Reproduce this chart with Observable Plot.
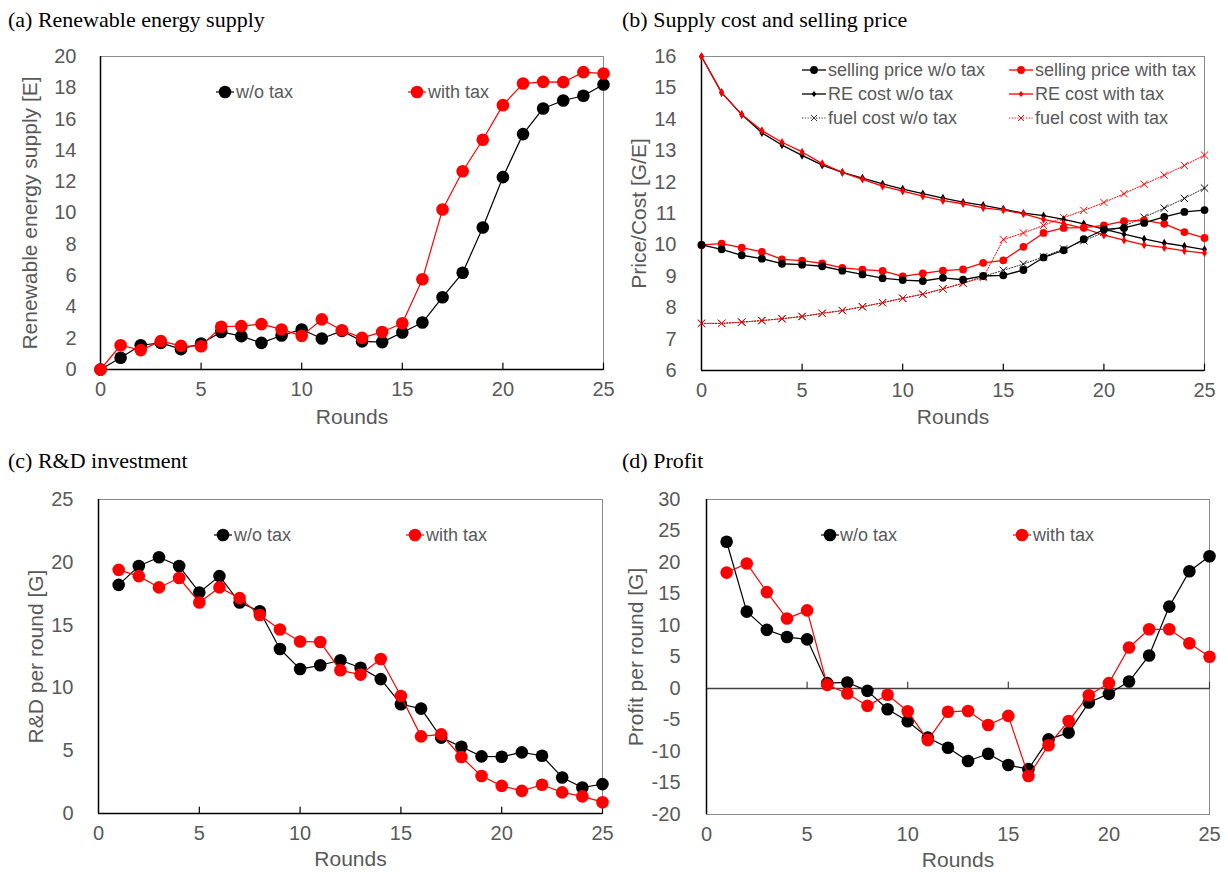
<!DOCTYPE html>
<html>
<head>
<meta charset="utf-8">
<script src="https://cdn.jsdelivr.net/npm/d3@7"></script>
<script src="https://cdn.jsdelivr.net/npm/@observablehq/plot@0.6"></script>
<style>
  html, body { margin: 0; padding: 0; background: #fff; }
  body { position: relative; width: 1228px; height: 872px; overflow: hidden; font-family: "Liberation Sans", Arial, sans-serif; }
  .ptitle { position: absolute; font-family: "Liberation Serif", "Times New Roman", serif; font-size: 22px; line-height: 22px; color: #000; white-space: nowrap; }
  .ltext { position: absolute; font-size: 18px; line-height: 22px; color: #595959; white-space: nowrap; }
  .lsw { position: absolute; overflow: visible; }
  svg.plot { position: absolute; left: 0; top: 0; }
</style>
</head>
<body>
<div class="ptitle" style="left:8px;top:9px">(a) Renewable energy supply</div>
<div class="ptitle" style="left:622px;top:9px">(b) Supply cost and selling price</div>
<div class="ptitle" style="left:8px;top:450px">(c) R&amp;D investment</div>
<div class="ptitle" style="left:622px;top:450px">(d) Profit</div>
<script>
// ---------------- data ----------------
const rounds0 = [0,1,2,3,4,5,6,7,8,9,10,11,12,13,14,15,16,17,18,19,20,21,22,23,24,25];
const rounds1 = [1,2,3,4,5,6,7,8,9,10,11,12,13,14,15,16,17,18,19,20,21,22,23,24,25];
const xTicks = [0,5,10,15,20,25];

// (a) Renewable energy supply [E]
const supplyNoTax = [0,0.75,1.55,1.7,1.3,1.66,2.4,2.13,1.7,2.17,2.56,1.98,2.47,1.8,1.75,2.36,3.0,4.62,6.18,9.07,12.29,15.04,16.68,17.19,17.49,18.21];
const supplyTax   = [0,1.55,1.24,1.81,1.51,1.49,2.73,2.77,2.9,2.56,2.15,3.2,2.51,2.02,2.4,2.96,5.77,10.22,12.67,14.68,16.89,18.27,18.38,18.36,19.0,18.91];
const yTicksA = [0,2,4,6,8,10,12,14,16,18,20];

// (b) Price/Cost [G/E]
const priceNoTax = [10,9.86,9.67,9.56,9.40,9.37,9.32,9.18,9.06,8.94,8.88,8.85,8.95,8.89,9.01,9.03,9.20,9.60,9.83,10.18,10.49,10.54,10.70,10.89,11.05,11.11];
const priceTax   = [10,10.04,9.91,9.78,9.54,9.50,9.41,9.27,9.21,9.17,9.0,9.09,9.18,9.22,9.43,9.51,9.94,10.38,10.54,10.55,10.62,10.76,10.78,10.67,10.41,10.22];
const reNoTax    = [16,14.85,14.15,13.57,13.18,12.85,12.54,12.31,12.13,11.94,11.78,11.63,11.49,11.36,11.26,11.14,11.01,10.93,10.81,10.67,10.50,10.34,10.19,10.06,9.96,9.85];
const reTax      = [16,14.85,14.15,13.64,13.27,12.96,12.59,12.31,12.09,11.87,11.71,11.55,11.41,11.31,11.18,11.11,10.99,10.81,10.68,10.53,10.31,10.15,10.0,9.91,9.81,9.74];
const fuelNoTax  = [7.5,7.5,7.54,7.59,7.65,7.72,7.82,7.91,8.03,8.16,8.30,8.43,8.60,8.78,9.0,9.19,9.39,9.62,9.87,10.13,10.40,10.6,10.88,11.17,11.48,11.81];
const fuelTax    = [7.5,7.5,7.54,7.59,7.65,7.72,7.82,7.91,8.03,8.16,8.30,8.43,8.60,8.78,8.96,10.17,10.38,10.62,10.87,11.10,11.35,11.63,11.93,12.22,12.53,12.86];
const yTicksB = [6,7,8,9,10,11,12,13,14,15,16];

// (c) R&D per round [G]
const rdNoTax = [18.2,19.7,20.4,19.7,17.6,18.9,16.8,16.1,13.1,11.5,11.8,12.2,11.6,10.7,8.7,8.35,6.04,5.32,4.55,4.52,4.87,4.6,2.87,2.07,2.34];
const rdTax   = [19.4,18.9,18.0,18.75,16.8,18.0,17.15,15.8,14.65,13.7,13.65,11.4,11.06,12.3,9.36,6.14,6.3,4.5,2.98,2.2,1.8,2.29,1.68,1.36,0.9];
const yTicksC = [0,5,10,15,20,25];

// (d) Profit per round [G]
const profitNoTax = [23.3,12.2,9.3,8.17,7.8,0.85,0.96,-0.37,-3.3,-5.2,-7.8,-9.4,-11.5,-10.35,-12.15,-12.8,-8.07,-7.0,-2.23,-0.85,1.1,5.25,13.0,18.6,21.0];
const profitTax   = [18.4,19.85,15.3,11.1,12.4,0.58,-0.8,-2.76,-1.0,-3.6,-8.2,-3.7,-3.56,-5.8,-4.35,-13.9,-9.0,-5.15,-1.06,0.85,6.5,9.4,9.4,7.17,5.04];
const yTicksD = [-20,-15,-10,-5,0,5,10,15,20,25,30];

const labelNoTax = "w/o tax";
const labelTax = "with tax";
const legendB = ["selling price w/o tax","selling price with tax","RE cost w/o tax","RE cost with tax","fuel cost w/o tax","fuel cost with tax"];

// ---------------- helpers ----------------
const GRAY = "#595959";
const BLACK = "#000000";
const RED = "#ff0000";
const W = 1228, H = 872;
const tickShape = {draw(ctx, l) { ctx.moveTo(0, 0); ctx.lineTo(0, -l); }};
const table = (xs, ys) => xs.map((x, i) => ({x, y: ys[i]}));

function panel(cfg) {
  const [x1, y1, x2, y2] = cfg.frame;
  const marks = [
    Plot.frame({stroke: "#8a8a8a", strokeWidth: 1}),
    Plot.axisY({ticks: cfg.yTicks, tickSize: 0, tickPadding: cfg.yPad, fontSize: 20, fill: GRAY, label: null, tickFormat: d => String(d)}),
    Plot.axisX({ticks: xTicks, tickSize: 0, tickPadding: cfg.xPad, fontSize: 20, fill: GRAY, label: null, tickFormat: d => String(d)}),
    Plot.ruleY([cfg.axisAt], {stroke: cfg.axisColor, strokeWidth: 1.3}),
    Plot.ruleX([0], {stroke: BLACK, strokeWidth: 1.5}),
    Plot.vector(xTicks.slice(1), {x: d => d, y: cfg.axisAt, length: 6.5, rotate: 0, anchor: "start", shape: tickShape, stroke: cfg.axisColor, strokeWidth: 1.2}),
    ...cfg.series,
    Plot.text([cfg.yTitle], {frameAnchor: "left", dx: -cfg.yTitleOff, rotate: -90, textAnchor: "middle", lineAnchor: "middle", fontSize: 21, fill: GRAY}),
    Plot.text(["Rounds"], {frameAnchor: "bottom", dy: cfg.roundsOff, textAnchor: "middle", lineAnchor: "middle", fontSize: 21, fill: GRAY})
  ];
  const svg = Plot.plot({
    width: W, height: H,
    marginLeft: x1, marginRight: W - x2, marginTop: y1, marginBottom: H - y2,
    style: {background: "transparent", fontFamily: "'Liberation Sans', Arial, sans-serif", overflow: "visible"},
    x: {domain: [0, 25]},
    y: {domain: cfg.yDomain},
    marks
  });
  svg.classList.add("plot");
  document.body.appendChild(svg);
}

function bigSeries(xs, ys, color) {
  const d = table(xs, ys);
  return [
    Plot.line(d, {x: "x", y: "y", stroke: color, strokeWidth: 1.2}),
    Plot.dot(d, {x: "x", y: "y", r: 6.3, fill: color, stroke: "none"})
  ];
}

// legend swatch: line + marker
function legendItem({x1, x2, y, color, marker, r, dash, label, tx, sw}) {
  const pad = 8;
  const w = x2 - x1 + 2 * pad, h = 2 * pad;
  const cx = (x2 - x1) / 2 + pad, cy = pad;
  let m = "";
  if (marker === "circle") m = `<circle cx="${cx}" cy="${cy}" r="${r}" fill="${color}"/>`;
  else if (marker === "diamond") m = `<path d="M${cx},${cy - r}L${cx + r * 0.8},${cy}L${cx},${cy + r}L${cx - r * 0.8},${cy}Z" fill="${color}"/>`;
  else if (marker === "times") m = `<path d="M${cx - r},${cy - r}L${cx + r},${cy + r}M${cx - r},${cy + r}L${cx + r},${cy - r}" stroke="${color}" stroke-width="1" fill="none"/>`;
  const svg = `<svg class="lsw" width="${w}" height="${h}" style="left:${x1 - pad}px;top:${y - pad}px">` +
    `<line x1="${pad}" x2="${pad + x2 - x1}" y1="${cy}" y2="${cy}" stroke="${color}" stroke-width="${sw || 1.2}" ${dash ? `stroke-dasharray="${dash}"` : ""}/>` + m + `</svg>`;
  const div = document.createElement("div");
  div.innerHTML = svg + `<div class="ltext" style="left:${tx}px;top:${y - 11.5}px">${label}</div>`;
  while (div.firstChild) document.body.appendChild(div.firstChild);
}

// ---------------- panel (a) ----------------
panel({
  frame: [100, 56, 603, 369],
  yDomain: [0, 20], yTicks: yTicksA, yPad: 24, xPad: 12,
  axisAt: 0, axisColor: BLACK,
  yTitle: "Renewable energy supply [E]", yTitleOff: 70, roundsOff: 47.5,
  series: [...bigSeries(rounds0, supplyNoTax, BLACK), ...bigSeries(rounds0, supplyTax, RED)]
});

// ---------------- panel (b) ----------------
{
  const fN = table(rounds0, fuelNoTax), fT = table(rounds0, fuelTax);
  const rN = table(rounds0, reNoTax), rT = table(rounds0, reTax);
  const pN = table(rounds0, priceNoTax), pT = table(rounds0, priceTax);
  panel({
    frame: [701, 56, 1204, 370],
    yDomain: [6, 16], yTicks: yTicksB, yPad: 25, xPad: 12,
    axisAt: 6, axisColor: BLACK,
    yTitle: "Price/Cost [G/E]", yTitleOff: 62, roundsOff: 47,
    series: [
      Plot.line(fN, {x: "x", y: "y", stroke: "#333", strokeWidth: 1, strokeDasharray: "1.2,1.6"}),
      Plot.dot(fN, {x: "x", y: "y", symbol: "times", r: 3.4, stroke: BLACK, strokeWidth: 1}),
      Plot.line(fT, {x: "x", y: "y", stroke: RED, strokeWidth: 1, strokeDasharray: "1.2,1.6"}),
      Plot.dot(fT, {x: "x", y: "y", symbol: "times", r: 3.4, stroke: RED, strokeWidth: 1}),
      Plot.line(rN, {x: "x", y: "y", stroke: BLACK, strokeWidth: 1.3}),
      Plot.dot(rN, {x: "x", y: "y", symbol: "diamond", r: 2.6, fill: BLACK, stroke: "none"}),
      Plot.line(rT, {x: "x", y: "y", stroke: RED, strokeWidth: 1.3}),
      Plot.dot(rT, {x: "x", y: "y", symbol: "diamond", r: 2.6, fill: RED, stroke: "none"}),
      Plot.line(pT, {x: "x", y: "y", stroke: RED, strokeWidth: 1.3}),
      Plot.dot(pT, {x: "x", y: "y", r: 3.9, fill: RED, stroke: "none"}),
      Plot.line(pN, {x: "x", y: "y", stroke: BLACK, strokeWidth: 1.3}),
      Plot.dot(pN, {x: "x", y: "y", r: 3.9, fill: BLACK, stroke: "none"})
    ]
  });
}

// ---------------- panel (c) ----------------
panel({
  frame: [98, 499, 602, 813],
  yDomain: [0, 25], yTicks: yTicksC, yPad: 25, xPad: 12,
  axisAt: 0, axisColor: BLACK,
  yTitle: "R&D per round [G]", yTitleOff: 62, roundsOff: 46,
  series: [...bigSeries(rounds1, rdNoTax, BLACK), ...bigSeries(rounds1, rdTax, RED)]
});

// ---------------- panel (d) ----------------
panel({
  frame: [706, 499, 1209, 814],
  yDomain: [-20, 30], yTicks: yTicksD, yPad: 26, xPad: 12,
  axisAt: 0, axisColor: "#404040",
  yTitle: "Profit per round [G]", yTitleOff: 70, roundsOff: 46,
  series: [...bigSeries(rounds1, profitNoTax, BLACK), ...bigSeries(rounds1, profitTax, RED)]
});

// ---------------- legends ----------------
legendItem({x1: 216, x2: 234, y: 92, color: BLACK, marker: "circle", r: 6.3, label: labelNoTax, tx: 236});
legendItem({x1: 408, x2: 426, y: 92, color: RED, marker: "circle", r: 6.3, label: labelTax, tx: 428});
legendItem({x1: 214, x2: 232, y: 535, color: BLACK, marker: "circle", r: 6.3, label: labelNoTax, tx: 234});
legendItem({x1: 406, x2: 424, y: 535, color: RED, marker: "circle", r: 6.3, label: labelTax, tx: 426});
legendItem({x1: 821, x2: 839, y: 535, color: BLACK, marker: "circle", r: 6.3, label: labelNoTax, tx: 840});
legendItem({x1: 1013, x2: 1031, y: 535, color: RED, marker: "circle", r: 6.3, label: labelTax, tx: 1033});

legendItem({x1: 802, x2: 826, y: 70, color: BLACK, marker: "circle", r: 3.9, label: legendB[0], tx: 828, sw: 1.3});
legendItem({x1: 1009, x2: 1033, y: 70, color: RED, marker: "circle", r: 3.9, label: legendB[1], tx: 1035, sw: 1.3});
legendItem({x1: 802, x2: 826, y: 94, color: BLACK, marker: "diamond", r: 3, label: legendB[2], tx: 828, sw: 1.3});
legendItem({x1: 1009, x2: 1033, y: 94, color: RED, marker: "diamond", r: 3, label: legendB[3], tx: 1035, sw: 1.3});
legendItem({x1: 802, x2: 826, y: 118, color: "#333", marker: "times", r: 3, dash: "1.2,1.6", label: legendB[4], tx: 828, sw: 1});
legendItem({x1: 1009, x2: 1033, y: 118, color: RED, marker: "times", r: 3, dash: "1.2,1.6", label: legendB[5], tx: 1035, sw: 1});
</script>
</body>
</html>
